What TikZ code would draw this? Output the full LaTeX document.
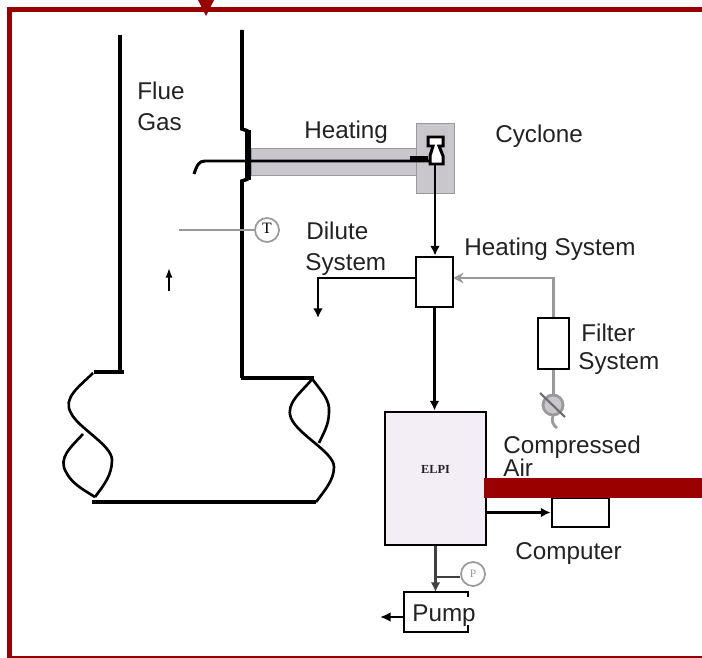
\documentclass[tikz,border=0pt]{standalone}
\usepackage{fontspec}
\setmainfont{Liberation Sans}
\newfontfamily\gaugefont{Liberation Serif}
\usepackage{pgf, tikz}
\usetikzlibrary{arrows.meta}
\pgfdeclarelayer{edgelayer}
\pgfdeclarelayer{nodelayer}
\pgfsetlayers{edgelayer,nodelayer,main}
\definecolor{framered}{HTML}{990000}
\definecolor{heatgray}{HTML}{C9C6CC}
\definecolor{linegray}{HTML}{9A9A9A}
\definecolor{elpifill}{HTML}{F3EEF5}
\definecolor{textgray}{HTML}{222222}
\def\px{0.02cm}
\tikzstyle{label}=[anchor=base west, inner sep=0pt, text=textgray, font=\fontsize{13.8}{16}\selectfont]
\tikzstyle{unit}=[rectangle, draw=black, fill=white, line width=1.6pt, inner sep=0pt]
\tikzstyle{gauge}=[circle, draw=linegray, fill=white, line width=1pt, inner sep=0pt, minimum size=24*\px]
\tikzstyle{wall}=[draw=black, line width=2pt]
\tikzstyle{twist}=[draw=black, line width=1.5pt]
\tikzstyle{pipe}=[draw=black, line width=1.5pt, -{Latex[length=5.5pt,width=5.5pt]}]
\tikzstyle{airpipe}=[draw=linegray, line width=1.6pt]

\begin{document}
\begin{tikzpicture}[x=0.02cm, y=-0.02cm]
				\useasboundingbox (0, 0) rectangle (702, 658);
				\begin{pgfonlayer}{nodelayer}
					\node [style=label] (flue) at (137, 100) {Flue};
					\node [style=label] (gas) at (137, 131) {Gas};
					\node [style=label] (heating) at (304, 138.5) {Heating};
					\node [style=label] (cyclone) at (495, 142.5) {Cyclone};
					\node [style=label] (dilute) at (306, 239) {Dilute};
					\node [style=label] (dilsys) at (305, 271) {System};
					\node [style=label] (heatsys) at (464, 255.5) {Heating System};
					\node [style=label] (filter) at (581, 341.5) {Filter};
					\node [style=label] (filsys) at (578, 369) {System};
					\node [style=label] (comp) at (503, 453.5) {Compressed};
					\node [style=label] (air) at (503, 476) {Air};
					\node [style=label] (computer) at (515, 559.5) {Computer};
					\node [style=label] (pump) at (412, 621) {Pump};
					\node [style=unit, minimum width=37*\px, minimum height=50*\px] (mix) at (434.5, 282) {};
					\node [style=unit, minimum width=31*\px, minimum height=51*\px] (filt) at (553.5, 343.5) {};
					\node [style=unit, fill=elpifill, minimum width=101*\px, minimum height=133*\px, font=\gaugefont\bfseries\fontsize{7}{8}\selectfont, text=textgray] (elpi) at (435.5, 478.5) {\raisebox{10pt}{ELPI}};
					\node [style=unit, minimum width=57*\px, minimum height=29*\px] (pc) at (580.5, 512.5) {};
					\node [style=gauge, font=\gaugefont\fontsize{9}{9}\selectfont] (temp) at (267, 230) {\raisebox{2pt}{T}};
					\node [style=gauge, font=\gaugefont\fontsize{6.5}{7}\selectfont, text=linegray] (press) at (473, 574) {P};
				\end{pgfonlayer}
				\begin{pgfonlayer}{edgelayer}
					% heated line
					\fill [heatgray, draw=linegray, line width=0.5pt] (251, 148) rectangle (417, 175);
					\fill [heatgray, draw=linegray, line width=0.5pt] (416, 123) rectangle (454, 193);
					\draw [line width=1.7pt] (194, 174) .. controls (197, 165) and (199, 161) .. (205, 161) -- (430, 161);
					\draw [line width=2.8pt] (410, 158) -- (428, 158);
					% stack
					\draw [style=wall] (120, 35) -- (120, 372);
					\draw [line width=2.6pt] (94, 372) -- (124, 372);
					\draw [style=wall] (242, 30) -- (242, 129) -- (248, 131);
					\draw [style=wall] (248, 179) -- (242, 181) -- (242, 378);
					\draw [line width=2.6pt] (241, 378) -- (314, 378);
					\draw [line width=3.6pt] (248, 130) -- (248, 180);
					\draw [style=wall] (92, 502) -- (316, 502);
					\draw [style=twist] (93, 373) .. controls (80, 386) and (62, 398) .. (71, 413) .. controls (78, 428) and (112, 445) .. (112, 460) .. controls (112, 475) and (104, 485) .. (95, 497);
					\draw [style=twist] (83, 434) .. controls (70, 448) and (58, 458) .. (66, 472) .. controls (72, 484) and (84, 490) .. (95, 497);
					\draw [style=twist] (313, 378) .. controls (302, 392) and (285, 403) .. (291, 418) .. controls (298, 435) and (334, 452) .. (334, 467) .. controls (334, 480) and (325, 490) .. (316, 502);
					\draw [style=twist] (313, 380) .. controls (322, 392) and (330, 400) .. (329, 412) .. controls (329, 425) and (323, 434) .. (319, 443);
					% connectors
					\draw [draw=linegray, line width=1pt] (179, 230) to (temp);
					\draw [line width=0.9pt, -{Latex[length=5.5pt,width=4pt]}] (169, 291) -- (169, 268);
					\draw [style=pipe] (435, 165) to (mix.north -| 435, 0);
					\draw [style=pipe] (mix.south) to (mix.south |- elpi.north);
					\draw [style=pipe] (416, 278) -- (318, 278) -- (318, 318);
					\draw [style=airpipe, -{Stealth[open, length=6pt, width=6pt]}] (filt.north) -- (filt.north |- 0, 278) -- (453, 278);
					\draw [style=airpipe] (filt.south) -- (553.5, 395);
					\draw [style=pipe] (elpi.east |- pc.west) to (pc.west);
					\draw [draw=black!75, line width=1.3pt, -{Latex[length=5.5pt,width=5.5pt]}] (elpi.south) -- (435.5, 592);
					\draw [draw=black!75, line width=1.1pt] (435.5, 577) to (press.west |- 435.5, 577);
					% pump casing
					\draw [line width=1.2pt] (468, 597) -- (468, 592) -- (404, 592) -- (404, 632) -- (468, 632) -- (468, 625);
					\draw [line width=1.3pt, -{Latex[length=6pt,width=5.5pt]}] (404, 617) -- (380, 617);
				\end{pgfonlayer}
				% valve on the air line
				\draw [fill=heatgray, draw=linegray, line width=1.6pt] (553, 405) circle (10);
				\draw [draw=linegray!70!black, line width=1.2pt] (540, 393) -- (565, 417);
				\draw [draw=linegray, line width=1.6pt] (553, 416) .. controls (551, 421) and (553, 425) .. (557, 428);
				% cyclone
				\draw [fill=white, line width=1.7pt] (428, 137) -- (443, 137) -- (443, 146) -- (439, 146) -- (443, 156) -- (443, 164) -- (430, 164) -- (430, 156) -- (433, 146) -- (428, 146) -- cycle;
				% frame
				\draw [framered, line width=2.9pt] (9.5, 658) -- (9.5, 9.5) -- (702, 9.5);
				\draw [framered, line width=0.6pt] (9.5, 657) -- (702, 657);
				\fill [framered] (198, 0) -- (214, 0) -- (206, 16) -- cycle;
				\fill [framered] (484, 478) rectangle (702, 498);
			\end{tikzpicture}
\end{document}
